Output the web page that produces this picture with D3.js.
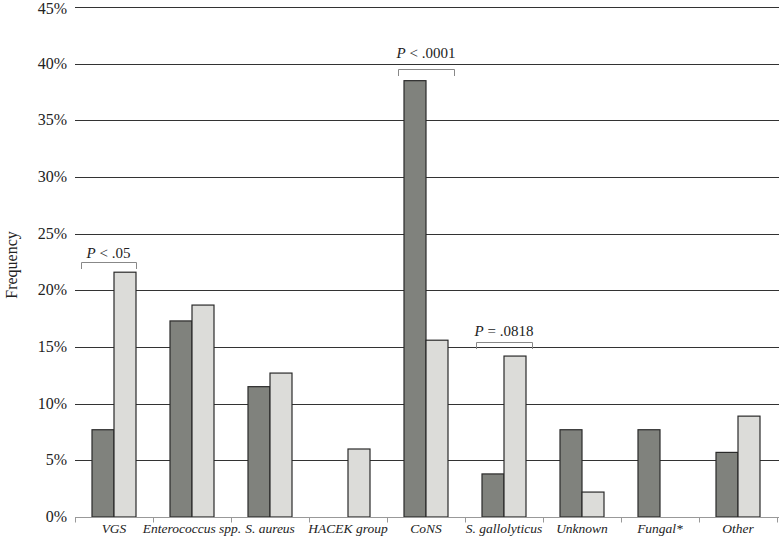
<!DOCTYPE html>
<html>
<head>
<meta charset="utf-8">
<script src="https://cdn.jsdelivr.net/npm/d3@7"></script>
<style>
  body { margin: 0; background: #fff; }
  svg text { font-family: 'Liberation Serif', 'Times New Roman', serif; fill: #222; }
</style>
</head>
<body>
<svg id="chart" width="779" height="539"></svg>
<script>
// categories and the two series (percent)
var categories = ['VGS', 'Enterococcus spp.', 'S. aureus', 'HACEK group', 'CoNS',
                  'S. gallolyticus', 'Unknown', 'Fungal*', 'Other'];
var seriesA = [7.7, 17.3, 11.5, 0, 38.5, 3.8, 7.7, 7.7, 5.7];
var seriesB = [21.6, 18.7, 12.7, 6.0, 15.6, 14.2, 2.2, 0, 8.9];
var yTicks = [0, 5, 10, 15, 20, 25, 30, 35, 40, 45];

// significance brackets: category index, label
var brackets = [
  {cat: 0, label: 'P < .05'},
  {cat: 4, label: 'P < .0001'},
  {cat: 5, label: 'P = .0818'}
];

var svg = d3.select('#chart');
var mLeft = 75, mRight = 779, mTop = 7, mBottom = 517;

var x = d3.scaleBand().domain(categories).range([mLeft, mLeft + 9 * 78]);
var y = d3.scaleLinear().domain([0, 45]).range([mBottom, mTop]);

// gridlines
svg.selectAll('line.grid').data(yTicks.filter(function(d) { return d > 0; }))
  .enter().append('line')
  .attr('class', 'grid')
  .attr('x1', mLeft).attr('x2', mRight)
  .attr('y1', function(d) { return Math.round(y(d)) + 0.5; })
  .attr('y2', function(d) { return Math.round(y(d)) + 0.5; })
  .attr('stroke', '#333').attr('stroke-width', 1);

// y labels
svg.selectAll('text.ylab').data(yTicks)
  .enter().append('text')
  .attr('class', 'ylab')
  .attr('x', 67)
  .attr('y', function(d) { return Math.max(y(d) + 5, 14); })
  .attr('text-anchor', 'end')
  .style('font-size', '16px')
  .text(function(d) { return d + '%'; });

// y title
svg.append('text')
  .attr('transform', 'translate(17,265) rotate(-90)')
  .attr('text-anchor', 'middle')
  .style('font-size', '16px')
  .text('Frequency');

// bars
var bw = 22;
var groups = svg.selectAll('g.cat').data(categories)
  .enter().append('g')
  .attr('class', 'cat')
  .attr('transform', function(d) { return 'translate(' + x(d) + ',0)'; });

groups.append('rect')
  .attr('x', 17)
  .attr('y', function(d, i) { return y(seriesA[i]); })
  .attr('width', bw)
  .attr('height', function(d, i) { return mBottom - y(seriesA[i]); })
  .attr('fill', '#80827d')
  .attr('stroke', '#2a2a2a').attr('stroke-width', 1.2)
  .style('display', function(d, i) { return seriesA[i] > 0 ? null : 'none'; });

groups.append('rect')
  .attr('x', 17 + bw)
  .attr('y', function(d, i) { return y(seriesB[i]); })
  .attr('width', bw)
  .attr('height', function(d, i) { return mBottom - y(seriesB[i]); })
  .attr('fill', '#dcdcd9')
  .attr('stroke', '#2a2a2a').attr('stroke-width', 1.2)
  .style('display', function(d, i) { return seriesB[i] > 0 ? null : 'none'; });

// bottom axis
var xAxis = svg.append('g').attr('transform', 'translate(0,' + (mBottom + 0.5) + ')');
xAxis.append('line').attr('x1', mLeft).attr('x2', mRight)
  .attr('stroke', '#999').attr('stroke-width', 1);
xAxis.selectAll('line.tick').data(d3.range(0, 10))
  .enter().append('line')
  .attr('class', 'tick')
  .attr('x1', function(d) { return Math.round(mLeft + d * x.bandwidth()) + 0.5; })
  .attr('x2', function(d) { return Math.round(mLeft + d * x.bandwidth()) + 0.5; })
  .attr('y1', 0).attr('y2', 5)
  .attr('stroke', '#999');

svg.selectAll('text.xlab').data(categories)
  .enter().append('text')
  .attr('class', 'xlab')
  .attr('x', function(d) { return x(d) + x.bandwidth() / 2; })
  .attr('y', 533)
  .attr('text-anchor', 'middle')
  .style('font-size', '13.5px')
  .style('font-style', 'italic')
  .text(function(d) { return d; });

// brackets
brackets.forEach(function(b, k) {
  var c = categories[b.cat];
  var hi = Math.max(seriesA[b.cat], seriesB[b.cat]);
  var gap = [10, 12, 14][k], lift = [4, 11, 6][k];
  var by = Math.round(y(hi)) - gap;
  var xa = x(c) + 6, xb = x(c) + 61;
  if (b.cat !== 0) { xa = x(c) + 11; xb = x(c) + 67; }
  svg.append('path')
    .attr('d', 'M' + (Math.round(xa) + 0.5) + ',' + (by + 7) + 'V' + (by + 0.5) +
               'H' + (Math.round(xb) + 0.5) + 'V' + (by + 7))
    .attr('fill', 'none').attr('stroke', '#888').attr('stroke-width', 1);
  var t = svg.append('text')
    .attr('x', (xa + xb) / 2)
    .attr('y', by - lift)
    .attr('text-anchor', 'middle')
    .style('font-size', '15px');
  t.append('tspan').style('font-style', 'italic').text(b.label.slice(0, 1));
  t.append('tspan').text(b.label.slice(1));
});
</script>
</body>
</html>
